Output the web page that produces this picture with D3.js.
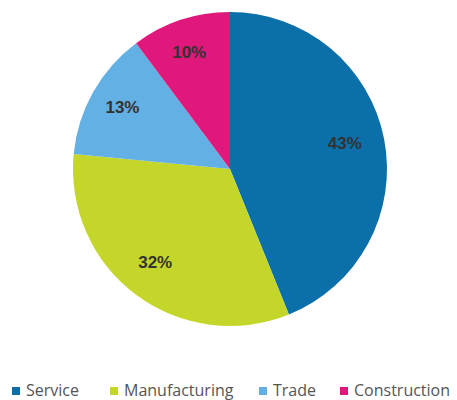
<!DOCTYPE html>
<html>
<head>
<meta charset="utf-8">
<script src="https://cdn.jsdelivr.net/npm/d3@7"></script>
<style>
  body { margin: 0; background: #fff; }
  svg { display: block; }
</style>
</head>
<body>
<div id="chart"></div>
<script>
// Sector shares
const categories = ['Service', 'Manufacturing', 'Trade', 'Construction'];
const values = [43, 32, 13, 10];
const labels = ['43%', '32%', '13%', '10%'];
const colors = ['#0b70aa', '#c5d62b', '#62b0e4', '#e0187b'];

const W = 457, H = 400;
const cx = 230, cy = 169, radius = 157;

const svg = d3.select('#chart')
  .append('svg')
  .attr('width', W)
  .attr('height', H);

const data = categories.map((c, i) => ({ category: c, value: values[i], label: labels[i] }));

const pie = d3.pie()
  .value(d => d.value)
  .sort(null);

const arc = d3.arc()
  .innerRadius(0)
  .outerRadius(radius);

const labelArc = d3.arc()
  .innerRadius(120)
  .outerRadius(120);

const color = d3.scaleOrdinal()
  .domain(categories)
  .range(colors);

const g = svg.append('g')
  .attr('transform', `translate(${cx},${cy})`);

const arcs = pie(data);

g.selectAll('path.slice')
  .data(arcs)
  .enter()
  .append('path')
  .attr('class', 'slice')
  .attr('d', arc)
  .style('fill', d => color(d.data.category));

g.selectAll('text.pct')
  .data(arcs)
  .enter()
  .append('text')
  .attr('class', 'pct')
  .attr('transform', d => {
    const [x, y] = labelArc.centroid(d);
    return `translate(${x - 3},${y - 3})`;
  })
  .attr('text-anchor', 'middle')
  .attr('dy', '0.35em')
  .style('font-family', 'Arial, "Liberation Sans", sans-serif')
  .style('font-weight', 'bold')
  .style('font-size', '17px')
  .style('fill', '#333')
  .text(d => d.data.label);

// legend along the bottom
const legendX = d3.scaleOrdinal()
  .domain(categories)
  .range([12, 110, 259, 340]);

const legend = svg.append('g')
  .attr('transform', 'translate(0,396)');

const item = legend.selectAll('g.item')
  .data(categories)
  .enter()
  .append('g')
  .attr('class', 'item')
  .attr('transform', d => `translate(${legendX(d)},0)`);

item.append('rect')
  .attr('x', 0)
  .attr('y', -9)
  .attr('width', 8)
  .attr('height', 8)
  .style('fill', d => color(d));

item.append('text')
  .attr('x', 14)
  .attr('y', 0)
  .style('font-family', '"Open Sans", sans-serif')
  .style('font-size', '16px')
  .style('fill', '#555')
  .text(d => d);
</script>
</body>
</html>
